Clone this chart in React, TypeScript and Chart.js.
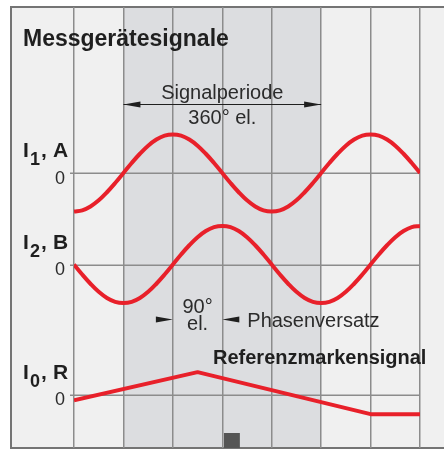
import { useEffect, useRef } from "react";
import { Chart, registerables } from "chart.js";

Chart.register(...registerables);

// Electrical angle (degrees) of the sampled points of the two incremental signals
const degrees = [
  0, 15, 30, 45, 60, 75, 90, 105, 120, 135, 150, 165, 180, 195, 210, 225, 240, 255, 270, 285, 300, 315, 330, 345,
  360, 375, 390, 405, 420, 435, 450, 465, 480, 495, 510, 525, 540, 555, 570, 585, 600, 615, 630,
];
// Normalised amplitude of signal I1 / A
const signalA = [
  -1, -0.97, -0.87, -0.71, -0.5, -0.26, 0, 0.26, 0.5, 0.71, 0.87, 0.97, 1, 0.97, 0.87, 0.71, 0.5, 0.26, 0, -0.26, -0.5, -0.71, -0.87, -0.97,
  -1, -0.97, -0.87, -0.71, -0.5, -0.26, 0, 0.26, 0.5, 0.71, 0.87, 0.97, 1, 0.97, 0.87, 0.71, 0.5, 0.26, 0,
];
// Normalised amplitude of signal I2 / B (90° behind A)
const signalB = [
  0, -0.26, -0.5, -0.71, -0.87, -0.97, -1, -0.97, -0.87, -0.71, -0.5, -0.26, 0, 0.26, 0.5, 0.71, 0.87, 0.97, 1, 0.97, 0.87, 0.71, 0.5, 0.26,
  0, -0.26, -0.5, -0.71, -0.87, -0.97, -1, -0.97, -0.87, -0.71, -0.5, -0.26, 0, 0.26, 0.5, 0.71, 0.87, 0.97, 1,
];
// Reference mark signal I0 / R
const refDegrees = [0, 225, 540, 630];
const signalR = [-0.15, 0.58, -0.51, -0.51];

// Axis range and grid spacing in degrees
const angleMin = 0;
const angleMax = 630;
const gridStep = 90;
// Marked spans (degrees)
const periodSpan = [90, 450];
const phaseSpan = [180, 270];
const refMarkSpan = [273, 302];

// Texts
const titleText = "Messgerätesignale";
const periodLabel = ["Signalperiode", "360° el."];
const phaseLabel = ["90°", "el."];
const phaseText = "Phasenversatz";
const refText = "Referenzmarkensignal";
const channelNames = [
  { main: "I", sub: "1", tail: "A" },
  { main: "I", sub: "2", tail: "B" },
  { main: "I", sub: "0", tail: "R" },
];
const zeroLabel = "0";

// Layout (pixels); the canvas runs past the visible box so the frame stays open on the right
const VIEW_W = 444;
const W = 470;
const H = 449;
const FRAME_L = 11;
const FRAME_T = 7;
const FRAME_B = 448;
const PLOT_L = 74;
const PLOT_R = 420;
const ZEROS = [173, 264.5, 394.5];
const AMP = 38.5;

const RED = "#e8202a";
const GRID = "#8c8c8c";
const TEXT = "#2b2b2b";
const FONT = '"Liberation Sans", Arial, Helvetica, sans-serif';

function rangeFor(zero: number) {
  return { min: -(FRAME_B - zero) / AMP, max: (zero - FRAME_T) / AMP };
}

function arrowHead(ctx: CanvasRenderingContext2D, tipX: number, y: number, dir: number) {
  // dir = -1 points left, +1 points right
  const len = 17;
  const half = 3;
  ctx.beginPath();
  ctx.moveTo(tipX, y);
  ctx.lineTo(tipX - dir * len, y - half);
  ctx.lineTo(tipX - dir * len, y + half);
  ctx.closePath();
  ctx.fill();
}

const decorPlugin = {
  id: "decor",
  beforeDraw(chart: any) {
    const ctx: CanvasRenderingContext2D = chart.ctx;
    const x = chart.scales.x;
    ctx.save();
    ctx.fillStyle = "#ffffff";
    ctx.fillRect(0, 0, W, H);
    ctx.fillStyle = "#f0f0f0";
    ctx.fillRect(FRAME_L, FRAME_T, W - FRAME_L, FRAME_B - FRAME_T);
    // one signal period shaded
    const s0 = x.getPixelForValue(periodSpan[0]);
    const s1 = x.getPixelForValue(periodSpan[1]);
    ctx.fillStyle = "#dcdde0";
    ctx.fillRect(s0, FRAME_T, s1 - s0, FRAME_B - FRAME_T);
    // frame: left, top and bottom edges
    ctx.fillStyle = "#747474";
    ctx.fillRect(FRAME_L - 1, FRAME_T - 1, 2, FRAME_B - FRAME_T + 2);
    ctx.fillRect(FRAME_L - 1, FRAME_T - 1, W - FRAME_L + 1, 2);
    ctx.fillRect(FRAME_L - 1, FRAME_B - 1, W - FRAME_L + 1, 2);
    ctx.restore();
  },
  beforeDatasetsDraw(chart: any) {
    const ctx: CanvasRenderingContext2D = chart.ctx;
    const x = chart.scales.x;
    ctx.save();
    ctx.strokeStyle = GRID;
    ctx.lineWidth = 1.5;
    ["yA", "yB", "yR"].forEach((id) => {
      const y = Math.round(chart.scales[id].getPixelForValue(0)) + 0.25;
      ctx.beginPath();
      ctx.moveTo(x.getPixelForValue(angleMin) - 4, y);
      ctx.lineTo(x.getPixelForValue(angleMax), y);
      ctx.stroke();
    });
    ctx.restore();
  },
  afterDatasetsDraw(chart: any) {
    const ctx: CanvasRenderingContext2D = chart.ctx;
    const x = chart.scales.x;
    ctx.save();

    // reference mark
    const m0 = x.getPixelForValue(refMarkSpan[0]);
    const m1 = x.getPixelForValue(refMarkSpan[1]);
    ctx.fillStyle = "#555555";
    ctx.fillRect(m0, 433, m1 - m0, FRAME_B - 433);

    // title
    ctx.fillStyle = "#1f1f1f";
    ctx.textBaseline = "alphabetic";
    ctx.textAlign = "left";
    ctx.font = `bold 23px ${FONT}`;
    ctx.fillText(titleText, 23, 46);

    // signal period dimension
    const p0 = x.getPixelForValue(periodSpan[0]);
    const p1 = x.getPixelForValue(periodSpan[1]);
    const pc = (p0 + p1) / 2;
    ctx.strokeStyle = "#1f1f1f";
    ctx.fillStyle = "#1f1f1f";
    ctx.lineWidth = 1;
    ctx.beginPath();
    ctx.moveTo(p0, 104.5);
    ctx.lineTo(p1, 104.5);
    ctx.stroke();
    arrowHead(ctx, p0, 104.5, -1);
    arrowHead(ctx, p1, 104.5, 1);
    ctx.fillStyle = TEXT;
    ctx.font = `20px ${FONT}`;
    ctx.textAlign = "center";
    ctx.fillText(periodLabel[0], pc, 99);
    ctx.fillText(periodLabel[1], pc, 124);

    // phase offset
    const q0 = x.getPixelForValue(phaseSpan[0]);
    const q1 = x.getPixelForValue(phaseSpan[1]);
    const qc = (q0 + q1) / 2;
    ctx.fillText(phaseLabel[0], qc, 313);
    ctx.fillText(phaseLabel[1], qc, 330);
    ctx.fillStyle = "#1f1f1f";
    arrowHead(ctx, q0, 319.5, 1);
    arrowHead(ctx, q1, 319.5, -1);
    ctx.fillStyle = TEXT;
    ctx.textAlign = "left";
    ctx.fillText(phaseText, q1 + 25, 327);

    // reference signal caption
    ctx.fillStyle = "#1f1f1f";
    ctx.font = `bold 20px ${FONT}`;
    ctx.fillText(refText, 213, 364);

    // channel names and zero labels
    ZEROS.forEach((z, i) => {
      const n = channelNames[i];
      const base = z - 16;
      ctx.fillStyle = "#1f1f1f";
      ctx.textAlign = "left";
      ctx.font = `bold 21px ${FONT}`;
      ctx.fillText(n.main, 23, base);
      ctx.font = `bold 18px ${FONT}`;
      ctx.fillText(n.sub, 30, base + 8);
      ctx.font = `bold 21px ${FONT}`;
      ctx.fillText(",", 41, base);
      ctx.fillText(n.tail, 53, base);
      ctx.fillStyle = TEXT;
      ctx.textAlign = "right";
      ctx.font = `18px ${FONT}`;
      ctx.fillText(zeroLabel, 65, z + 10.5);
    });

    ctx.restore();
  },
};

export default function App() {
  const canvasRef = useRef<HTMLCanvasElement | null>(null);

  useEffect(() => {
    const canvas = canvasRef.current;
    if (!canvas) return;
    const lineStyle = {
      borderColor: RED,
      borderWidth: 4,
      pointRadius: 0,
      fill: false,
      borderCapStyle: "butt" as const,
      borderJoinStyle: "round" as const,
    };
    const chart = new Chart(canvas, {
      type: "line",
      data: {
        datasets: [
          {
            label: "I1, A",
            data: degrees.map((d, i) => ({ x: d, y: signalA[i] })),
            yAxisID: "yA",
            tension: 0.4,
            ...lineStyle,
          },
          {
            label: "I2, B",
            data: degrees.map((d, i) => ({ x: d, y: signalB[i] })),
            yAxisID: "yB",
            tension: 0.4,
            ...lineStyle,
          },
          {
            label: "I0, R",
            data: refDegrees.map((d, i) => ({ x: d, y: signalR[i] })),
            yAxisID: "yR",
            tension: 0,
            ...lineStyle,
          },
        ],
      },
      options: {
        responsive: false,
        animation: false,
        events: [],
        layout: { padding: { left: PLOT_L, right: W - PLOT_R, top: FRAME_T, bottom: H - FRAME_B } },
        plugins: { legend: { display: false }, tooltip: { enabled: false }, title: { display: false } },
        scales: {
          x: {
            type: "linear",
            min: angleMin,
            max: angleMax,
            display: true,
            ticks: { display: false, stepSize: gridStep },
            grid: { color: GRID, lineWidth: 1.5, drawTicks: false, tickLength: 0 },
            border: { display: false },
            afterFit: (s: any) => {
              s.height = 0;
            },
          },
          yA: { type: "linear", display: false, ...rangeFor(ZEROS[0]) },
          yB: { type: "linear", display: false, ...rangeFor(ZEROS[1]) },
          yR: { type: "linear", display: false, ...rangeFor(ZEROS[2]) },
        },
      },
      plugins: [decorPlugin],
    } as any);
    return () => chart.destroy();
  }, []);

  return (
    <div style={{ position: "absolute", left: 0, top: 0, width: VIEW_W, height: H, overflow: "hidden" }}>
      <canvas ref={canvasRef} width={W} height={H} style={{ display: "block", width: W, height: H }} />
    </div>
  );
}
